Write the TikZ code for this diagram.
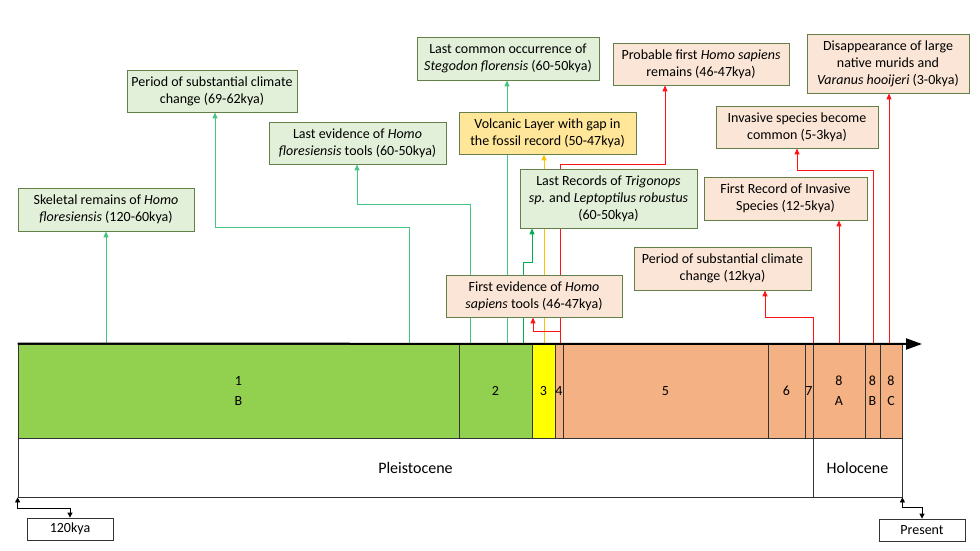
\documentclass[tikz,border=0pt]{standalone}
\usepackage{fontspec}
\setmainfont{Carlito}
\usepackage{tikz}
\usetikzlibrary{arrows.meta, backgrounds}
\definecolor{boxedge}{RGB}{98,128,72}
\definecolor{greenfill}{RGB}{226,240,217}
\definecolor{peachfill}{RGB}{251,229,214}
\definecolor{yellowfill}{RGB}{255,230,153}
\definecolor{bargreen}{RGB}{146,208,80}
\definecolor{barorange}{RGB}{244,177,131}
\definecolor{baryellow}{RGB}{255,255,0}
\definecolor{linegreen}{RGB}{70,196,130}
\definecolor{linedkgreen}{RGB}{0,176,80}
\definecolor{lineyellow}{RGB}{255,192,0}
\definecolor{linered}{RGB}{255,20,20}
\tikzstyle{event}=[rectangle, draw=boxedge, line width=0.8pt, align=center,
  inner sep=2pt, font=\fontsize{14}{17}\selectfont]
\tikzstyle{greenbox}=[event, fill=greenfill]
\tikzstyle{peachbox}=[event, fill=peachfill]
\tikzstyle{yellowbox}=[event, fill=yellowfill]
\tikzstyle{seg}=[rectangle, draw=black!80, line width=0.8pt, minimum height=94pt,
  inner sep=0pt, align=center, font=\fontsize{14}{20}\selectfont]
\tikzstyle{epoch}=[rectangle, draw=black!80, line width=0.8pt, minimum height=59pt,
  font=\fontsize{16}{18}\selectfont]
\tikzstyle{datebox}=[rectangle, draw=black!80, line width=0.8pt, minimum width=86pt,
  minimum height=22pt, inner sep=0pt, font=\fontsize{14}{16}\selectfont]
\tikzstyle{connector}=[-{Triangle[length=6pt,width=5pt]}, line width=1pt]
\tikzstyle{greenlink}=[connector, color=linegreen]
\tikzstyle{dkgreenlink}=[connector, color=linedkgreen]
\tikzstyle{yellowlink}=[connector, color=lineyellow]
\tikzstyle{redlink}=[connector, color=linered]
\tikzstyle{timeaxis}=[-{Triangle[length=16pt,width=11pt]}, line width=2pt]
\tikzstyle{datelink}=[{Triangle[length=5pt,width=5pt]}-{Triangle[length=5pt,width=5pt]},
  line width=0.8pt]

\begin{document}
\begin{tikzpicture}[x=1pt, y=-1pt]
  \useasboundingbox (0,0) rectangle (980,551);
  % bar of layers
  \node[seg, fill=bargreen, minimum width=441pt] (seg1) at (238.5,391) {1\\B};
  \node[seg, fill=bargreen, minimum width=73pt] (seg2) at (495.5,391) {2};
  \node[seg, fill=baryellow, minimum width=23pt] (seg3) at (543.5,391) {3};
  \node[seg, fill=barorange, minimum width=8pt] (seg4) at (559,391) {4};
  \node[seg, fill=barorange, minimum width=205pt] (seg5) at (665.5,391) {5};
  \node[seg, fill=barorange, minimum width=37pt] (seg6) at (786.5,391) {6};
  \node[seg, fill=barorange, minimum width=8pt] (seg7) at (809,391) {7};
  \node[seg, fill=barorange, minimum width=52pt] (seg8a) at (839,391) {8\\A};
  \node[seg, fill=barorange, minimum width=15pt] (seg8b) at (872.5,391) {8\\B};
  \node[seg, fill=barorange, minimum width=22pt] (seg8c) at (891,391) {8\\C};
  \coordinate (axend) at (922,344);
  \draw[timeaxis] (seg1.north west) -- (axend);
  % epochs and dates
  \node[epoch, minimum width=795pt] (pleis) at (415.5,467.5) {Pleistocene};
  \node[epoch, minimum width=89pt] (holo) at (857.5,467.5) {Holocene};
  \node[datebox] (kya) at (70,529) {120kya};
  \node[datebox] (present) at (922,530) {Present};
  \draw[datelink] (pleis.south west) -- ++(0,11) -| (kya.north);
  \draw[datelink] (holo.south east) -- ++(0,10) -| (present.north);
  % events
  \node[greenbox, minimum width=176pt, minimum height=43pt] (skel) at (106,209.5)
    {Skeletal remains of \textit{Homo}\\\textit{floresiensis} (120-60kya)};
  \node[greenbox, minimum width=170pt, minimum height=42pt] (clim) at (212,91)
    {Period of substantial climate\\change (69-62kya)};
  \node[greenbox, minimum width=177pt, minimum height=42pt] (lastev) at (357.5,143)
    {Last evidence of \textit{Homo}\\\textit{floresiensis} tools (60-50kya)};
  \node[greenbox, minimum width=182pt, minimum height=43pt] (steg) at (508,58.5)
    {Last common occurrence of\\\textit{Stegodon florensis} (60-50kya)};
  \node[yellowbox, minimum width=177pt, minimum height=42pt] (volc) at (547.5,133)
    {Volcanic Layer with gap in\\the fossil record (50-47kya)};
  \node[greenbox, minimum width=177pt, minimum height=59pt] (lastrec) at (608.5,198.5)
    {Last Records of \textit{Trigonops}\\\textit{sp}. and \textit{Leptoptilus robustus}\\(60-50kya)};
  \node[peachbox, minimum width=176pt, minimum height=42pt] (firstev) at (534,296)
    {First evidence of \textit{Homo}\\\textit{sapiens} tools (46-47kya)};
  \node[peachbox, minimum width=176pt, minimum height=42pt] (prob) at (701,64)
    {Probable first \textit{Homo sapiens}\\remains (46-47kya)};
  \node[peachbox, minimum width=177pt, minimum height=43pt] (clim12) at (722.5,268.5)
    {Period of substantial climate\\change (12kya)};
  \node[peachbox, minimum width=163pt, minimum height=43pt] (firstrec) at (785.5,198.5)
    {First Record of Invasive\\Species (12-5kya)};
  \node[peachbox, minimum width=162pt, minimum height=42pt] (invas) at (797,127)
    {Invasive species become\\common (5-3kya)};
  \node[peachbox, minimum width=162pt, minimum height=59pt] (disap) at (888,63.5)
    {Disappearance of large\\native murids and\\\textit{Varanus hooijeri} (3-0kya)};
  % connectors from the bar
  \coordinate (t1) at (106,344);
  \coordinate (t2) at (409,344); \coordinate (c2) at (215,227);
  \coordinate (t3) at (470,344); \coordinate (c3) at (357,204);
  \coordinate (t4) at (507,344);
  \coordinate (t5) at (523,344); \coordinate (c5) at (532,262);
  \coordinate (t6) at (544,344);
  \coordinate (t7) at (560,344); \coordinate (c7) at (533,331); \coordinate (c8) at (665,164);
  \coordinate (t9) at (813,344); \coordinate (c9) at (765,317);
  \coordinate (t10) at (839,344);
  \coordinate (t11) at (873,344); \coordinate (c11) at (797,170);
  \coordinate (t12) at (889,344);
  \begin{scope}[on background layer]
    \draw[greenlink] (t1) -- (t1 |- skel.south);
    \draw[greenlink] (t2) |- (c2) -- (c2 |- clim.south);
    \draw[greenlink] (t3) |- (c3) -- (c3 |- lastev.south);
    \draw[greenlink] (t4) -- (t4 |- steg.south);
    \draw[dkgreenlink] (t5) |- (c5) -- (c5 |- lastrec.south);
    \draw[yellowlink] (t6) -- (t6 |- volc.south);
    \draw[redlink] (t7) |- (c7) -- (c7 |- firstev.south);
    \draw[redlink] (t7) |- (c8) -- (c8 |- prob.south);
    \draw[redlink] (t9) |- (c9) -- (c9 |- clim12.south);
    \draw[redlink] (t10) -- (t10 |- firstrec.south);
    \draw[redlink] (t11) |- (c11) -- (c11 |- invas.south);
    \draw[redlink] (t12) -- (t12 |- disap.south);
  \end{scope}
\end{tikzpicture}
\end{document}
